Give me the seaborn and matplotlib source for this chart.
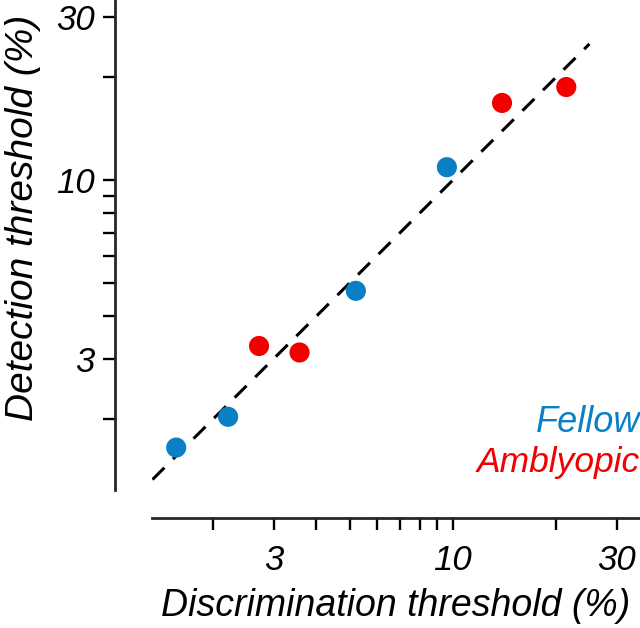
import numpy as np
import pandas as pd
import matplotlib
matplotlib.use("Agg")
import matplotlib.pyplot as plt
import seaborn as sns

# thresholds (%)
eye = ["Fellow", "Fellow", "Amblyopic", "Amblyopic", "Fellow", "Fellow", "Amblyopic", "Amblyopic"]
discrimination = [1.56, 2.21, 2.72, 3.57, 5.21, 9.60, 13.9, 21.4]
detection = [1.65, 2.03, 3.27, 3.13, 4.74, 10.9, 16.8, 18.7]

unity = [1.33, 25.0]
tick_vals = [2, 3, 4, 5, 6, 7, 8, 9, 10, 20, 30]
tick_labels = ["", "3", "", "", "", "", "", "", "10", "", "30"]

colors = {"Fellow": "#0a7fc6", "Amblyopic": "#f20000"}

df = pd.DataFrame({"eye": eye, "disc": discrimination, "det": detection})

sns.set_style("ticks")
plt.rcParams["font.family"] = ["Liberation Sans", "DejaVu Sans"]

fig = plt.figure(figsize=(6.4, 6.28), dpi=100)
ax = fig.add_axes([152 / 640, 138 / 628, 488 / 640, 490 / 628])

ax.plot(unity, unity, color="black", lw=2.2, dashes=(5.5, 4), zorder=1)
sns.scatterplot(data=df, x="disc", y="det", hue="eye", palette=colors,
                s=210, linewidth=0, legend=False, ax=ax, zorder=2)

ax.set_xscale("log")
ax.set_yscale("log")
ax.set_xlim(1.326, 35.1)
ax.set_ylim(1.24, 33.6)

ax.minorticks_off()
ax.set_xticks(tick_vals)
ax.set_xticklabels(tick_labels)
ax.set_yticks(tick_vals)
ax.set_yticklabels(tick_labels)
ax.minorticks_off()

sns.despine(ax=ax)
ax.spines["left"].set_position(("outward", 26.6))
ax.spines["bottom"].set_position(("outward", 20.2))
for s in ["left", "bottom"]:
    ax.spines[s].set_linewidth(2.0)

ax.tick_params(axis="both", length=8.6, width=1.7, labelsize=25, direction="out",
               color="black", labelcolor="black")
ax.tick_params(axis="x", pad=10)
ax.tick_params(axis="y", pad=6)
for lab in ax.get_xticklabels() + ax.get_yticklabels():
    lab.set_fontstyle("italic")

ax.set_xlabel("Discrimination threshold (%)", fontsize=27, style="italic", color="black")
ax.set_ylabel("Detection threshold (%)", fontsize=28, style="italic", color="black")
ax.xaxis.set_label_coords((396 - 152) / 488, -(606 - 490) / 490)
ax.yaxis.set_label_coords(-(152 - 23) / 488, (490 - 218) / 490)
ax.xaxis.label.set_va("center")
ax.yaxis.label.set_va("center")

ax.text(1.0, (490 - 432) / 490, "Fellow", color=colors["Fellow"], fontsize=26,
        style="italic", ha="right", va="baseline", transform=ax.transAxes)
ax.text(1.0, (490 - 472) / 490, "Amblyopic", color=colors["Amblyopic"], fontsize=25.5,
        style="italic", ha="right", va="baseline", transform=ax.transAxes)

fig.savefig("out.png", dpi=100)
